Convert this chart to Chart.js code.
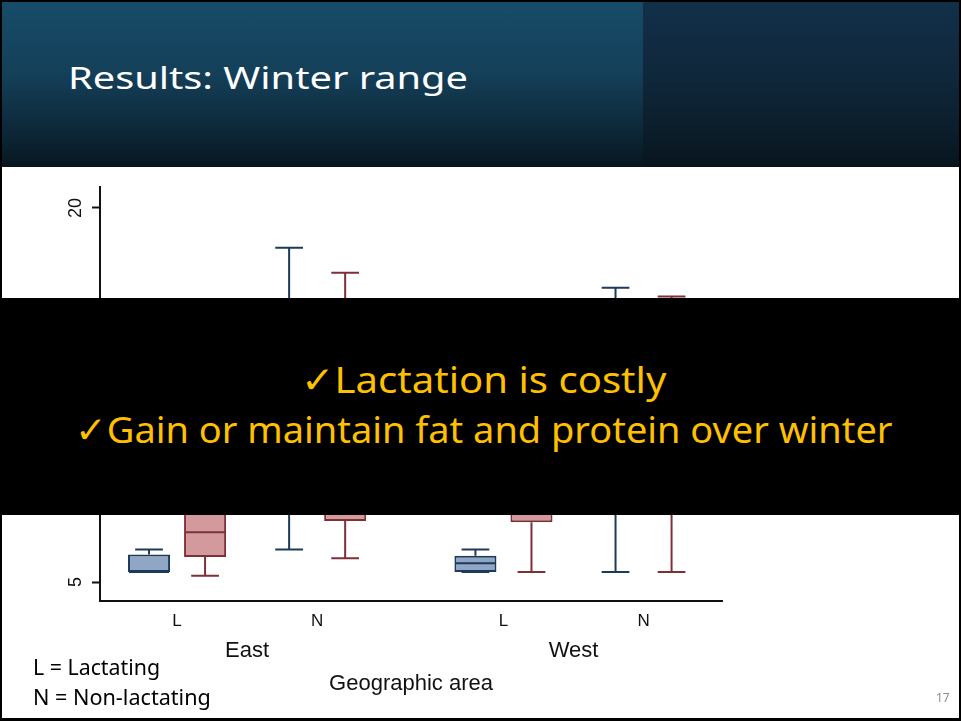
<!DOCTYPE html>
<html>
<head>
<meta charset="utf-8">
<title>Results: Winter range</title>
<script src="https://cdn.jsdelivr.net/npm/chart.js@4.4.1/dist/chart.umd.min.js"></script>
<style>
  html, body { margin: 0; padding: 0; background: #fff; }
  #slide { position: relative; width: 961px; height: 721px; overflow: hidden; background: #fff; }
  #header { position: absolute; left: 0; top: 0; width: 961px; height: 167px;
    background: linear-gradient(180deg, #174c69 0%, #143f58 45%, #0c2535 82%, #07161f 100%); }
  #headerRight { position: absolute; left: 643px; top: 0; width: 318px; height: 167px;
    background: linear-gradient(180deg, #12304a 0%, #0f2638 50%, #0a1b27 85%, #07141d 100%); }
  #chartBox { position: absolute; left: 0; top: 166px; width: 961px; height: 555px; }
  #overlay { position: absolute; left: 2px; top: 298px; width: 959px; height: 217px; background: #000; }
  .txt { position: absolute; white-space: nowrap; line-height: 1; transform-origin: 0 0;
    font-family: "Noto Sans", "Open Sans", "DejaVu Sans", sans-serif; }
  #frame { position: absolute; left: 0; top: 0; width: 961px; height: 721px; box-sizing: border-box;
    border: 2px solid #000; border-bottom-width: 3px; pointer-events: none; }
</style>
</head>
<body>
<div id="slide">
  <div id="header"></div>
  <div id="headerRight"></div>
  <div class="txt" style="color:#fff" data-size="31" data-base="90" data-left="68" data-width="400">Results: Winter range</div>

  <div id="chartBox"><canvas id="chart" width="961" height="555"></canvas></div>

  <div id="overlay"></div>
  <div class="txt" style="color:#ffc000" data-size="37" data-base="393" data-center="483" data-width="365">✓Lactation is costly</div>
  <div class="txt" style="color:#ffc000" data-size="37" data-base="443" data-center="484" data-width="818">✓Gain or maintain fat and protein over winter</div>

  <div class="txt" style="color:#000" data-size="21" data-base="676" data-left="33" data-width="127">L = Lactating</div>
  <div class="txt" style="color:#000" data-size="21" data-base="706" data-left="33" data-width="178">N = Non-lactating</div>
  <div class="txt" style="color:#8c8c8c" data-size="12" data-base="703" data-left="936">17</div>
  <div id="frame"></div>
</div>

<script>
// categories
const areas = ['East', 'East', 'West', 'West'];
const status = ['L', 'N', 'L', 'N'];
const yTicks = [5, 10, 15, 20];

// blue boxes (left of each pair)
const blueMin = [5.4, 6.3, 5.4, 5.4];
const blueQ1 = [5.4, 8.6, 5.4, 8.2];
const blueMedian = [5.4, 10.8, 5.75, 10.2];
const blueQ3 = [6.1, 13.0, 6.05, 12.6];
const blueMax = [6.3, 18.4, 6.3, 16.8];

// red boxes (right of each pair)
const redMin = [5.25, 5.95, 5.4, 5.4];
const redQ1 = [6.0, 7.45, 7.4, 8.4];
const redMedian = [7.0, 9.6, 8.8, 10.4];
const redQ3 = [8.9, 12.2, 11.0, 12.8];
const redMax = [11.2, 17.4, 14.5, 16.45];

const AXIS = '#111';
const CHART_FONT = 'Liberation Sans, Arial, sans-serif';
const GROUP_GAP = 0.33; // extra room between East and West

const areaNames = [...new Set(areas)];
const positions = areas.map((a, i) => i + areaNames.indexOf(a) * GROUP_GAP);

function boxData(q1, q3) {
  return positions.map((x, i) => ({ x: x, y: [q1[i], q3[i]] }));
}

// whiskers, caps and medians, placed with the chart's own scales
const whiskers = {
  id: 'whiskers',
  afterDatasetsDraw(chart) {
    const ctx = chart.ctx;
    const y = chart.scales.y;
    chart.data.datasets.forEach((ds, d) => {
      const meta = chart.getDatasetMeta(d);
      meta.data.forEach((bar, i) => {
        const cx = bar.x;
        const half = bar.width / 2;
        const cap = bar.width * 0.33;
        const yMin = y.getPixelForValue(ds.stats.min[i]);
        const yMax = y.getPixelForValue(ds.stats.max[i]);
        const yQ1 = y.getPixelForValue(ds.data[i].y[0]);
        const yQ3 = y.getPixelForValue(ds.data[i].y[1]);
        const yMed = y.getPixelForValue(ds.stats.median[i]);
        ctx.save();
        ctx.strokeStyle = ds.borderColor;
        ctx.lineWidth = 2;
        ctx.beginPath();
        ctx.moveTo(cx, yQ3); ctx.lineTo(cx, yMax);
        ctx.moveTo(cx - cap, yMax); ctx.lineTo(cx + cap, yMax);
        ctx.moveTo(cx, yQ1); ctx.lineTo(cx, yMin);
        ctx.moveTo(cx - cap, yMin); ctx.lineTo(cx + cap, yMin);
        ctx.moveTo(cx - half + 1, yMed); ctx.lineTo(cx + half - 1, yMed);
        ctx.stroke();
        ctx.restore();
      });
    });
  }
};

// East / West under each pair of ticks
const groupLabels = {
  id: 'groupLabels',
  afterDraw(chart) {
    const ctx = chart.ctx;
    const x = chart.scales.x;
    ctx.save();
    ctx.fillStyle = AXIS;
    ctx.font = '22px ' + CHART_FONT;
    ctx.textAlign = 'center';
    ctx.textBaseline = 'middle';
    areaNames.forEach(name => {
      const ps = positions.filter((p, i) => areas[i] === name);
      const mid = (ps[0] + ps[ps.length - 1]) / 2;
      ctx.fillText(name, x.getPixelForValue(mid), chart.chartArea.bottom + 50);
    });
    ctx.restore();
  }
};

new Chart(document.getElementById('chart'), {
  type: 'bar',
  data: {
    datasets: [
      {
        label: 'Blue',
        data: boxData(blueQ1, blueQ3),
        stats: { min: blueMin, median: blueMedian, max: blueMax },
        backgroundColor: '#8fa7c4',
        borderColor: '#1e3a5b',
        borderWidth: 2,
        borderSkipped: false,
        categoryPercentage: 0.8,
        barPercentage: 0.75
      },
      {
        label: 'Red',
        data: boxData(redQ1, redQ3),
        stats: { min: redMin, median: redMedian, max: redMax },
        backgroundColor: '#d39a9e',
        borderColor: '#7e3037',
        borderWidth: 2,
        borderSkipped: false,
        categoryPercentage: 0.8,
        barPercentage: 0.75
      }
    ]
  },
  options: {
    responsive: false,
    animation: false,
    layout: { padding: { left: 0, right: 239, top: 21, bottom: 0 } },
    plugins: { legend: { display: false }, tooltip: { enabled: false } },
    scales: {
      x: {
        type: 'linear',
        min: -0.55,
        max: 3.89,
        offset: false,
        grid: { display: false, drawTicks: false },
        border: { display: true, color: AXIS, width: 2 },
        afterBuildTicks: s => { s.ticks = positions.map(v => ({ value: v })); },
        ticks: {
          autoSkip: false,
          maxRotation: 0,
          padding: 10,
          color: AXIS,
          font: { family: CHART_FONT, size: 17 },
          callback: (v, i) => status[i]
        },
        title: {
          display: true,
          text: 'Geographic area',
          color: AXIS,
          font: { family: CHART_FONT, size: 22 },
          padding: { top: 0, bottom: 24 }
        },
        afterFit: s => { s.height = 120; }
      },
      y: {
        min: 4.24,
        max: 20.84,
        afterBuildTicks: s => { s.ticks = yTicks.map(v => ({ value: v })); },
        grid: { drawOnChartArea: false, drawTicks: true, tickLength: 8, tickWidth: 2, tickColor: AXIS },
        border: { display: true, color: AXIS, width: 2 },
        ticks: {
          minRotation: 90,
          maxRotation: 90,
          crossAlign: 'center',
          padding: 6,
          color: AXIS,
          font: { family: CHART_FONT, size: 18 }
        },
        afterFit: s => { s.width = 100; }
      }
    }
  },
  plugins: [whiskers, groupLabels]
});

// slide texts: place by baseline, stretch to the measured width
document.querySelectorAll('.txt').forEach(el => {
  const fs = parseFloat(el.dataset.size);
  el.style.fontSize = fs + 'px';
  el.style.top = (parseFloat(el.dataset.base) - 0.888 * fs) + 'px';
  const natural = el.offsetWidth;
  const target = el.dataset.width ? parseFloat(el.dataset.width) : natural;
  el.style.transform = 'scaleX(' + (target / natural) + ')';
  if (el.dataset.center) {
    el.style.left = (parseFloat(el.dataset.center) - target / 2) + 'px';
  } else {
    el.style.left = el.dataset.left + 'px';
  }
});
</script>
</body>
</html>
